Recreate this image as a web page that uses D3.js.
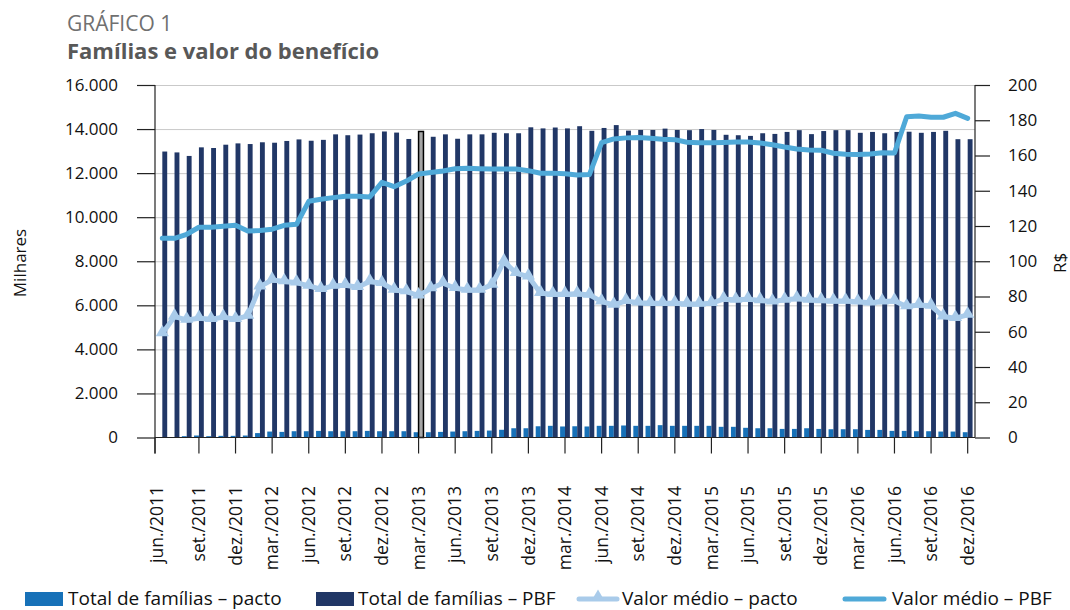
<!DOCTYPE html>
<html><head><meta charset="utf-8">
<script src="https://cdn.jsdelivr.net/npm/d3@7"></script>
<style>
body{margin:0;background:#fff;}
text{font-family:"Open Sans","Noto Sans",sans-serif;}
</style></head>
<body>
<svg id="chart" width="1070" height="610"></svg>
<script>
const categories = [
 "jun./2011","jul./2011","ago./2011","set./2011","out./2011","nov./2011","dez./2011",
 "jan./2012","fev./2012","mar./2012","abr./2012","mai./2012","jun./2012","jul./2012","ago./2012","set./2012","out./2012","nov./2012","dez./2012",
 "jan./2013","fev./2013","mar./2013","abr./2013","mai./2013","jun./2013","jul./2013","ago./2013","set./2013","out./2013","nov./2013","dez./2013",
 "jan./2014","fev./2014","mar./2014","abr./2014","mai./2014","jun./2014","jul./2014","ago./2014","set./2014","out./2014","nov./2014","dez./2014",
 "jan./2015","fev./2015","mar./2015","abr./2015","mai./2015","jun./2015","jul./2015","ago./2015","set./2015","out./2015","nov./2015","dez./2015",
 "jan./2016","fev./2016","mar./2016","abr./2016","mai./2016","jun./2016","jul./2016","ago./2016","set./2016","out./2016","nov./2016","dez./2016"];
const tickLabels = ["jun./2011","set./2011","dez./2011","mar./2012","jun./2012","set./2012","dez./2012","mar./2013","jun./2013","set./2013","dez./2013","mar./2014","jun./2014","set./2014","dez./2014","mar./2015","jun./2015","set./2015","dez./2015","mar./2016","jun./2016","set./2016","dez./2016"];
// Total de famílias – pacto (milhares)
const familiasPacto = [5,10,60,90,60,75,75,90,200,270,255,285,285,300,285,285,285,300,285,285,285,240,240,255,270,285,300,315,350,420,420,510,530,500,510,500,530,530,545,530,530,560,530,530,530,530,485,485,440,420,420,390,390,420,390,375,375,375,345,345,300,300,285,285,270,270,240];
// Total de famílias – PBF (milhares)
const familiasPBF = [12980,12940,12780,13170,13140,13290,13350,13320,13400,13380,13460,13530,13470,13510,13760,13720,13750,13810,13890,13840,13550,13890,13650,13760,13560,13760,13760,13830,13810,13810,14080,14030,14070,14030,14130,13920,14050,14180,13930,13960,13960,14020,13960,13950,14000,13960,13740,13720,13690,13810,13780,13870,13950,13770,13910,13950,13950,13830,13870,13810,13870,13880,13830,13870,13920,13540,13540];
// Valor médio – pacto (R$)
const valorPacto = [59,68.6,66.7,67.7,67.1,68.3,67.1,69,85.6,89.4,88.5,87.9,86,84.1,86,86.4,85.3,88.5,87.5,83.7,82.8,80.5,84.5,87.5,84.7,83.7,83.7,86.6,99.8,93.2,91.3,81.9,81.3,81.3,81.5,80.9,77.1,75.2,77.5,76.5,76.2,76.2,76.2,75.8,75.8,76.2,78.5,78.1,78.5,77.8,77.1,78.1,78.8,78.1,77.8,77.5,77.5,77,76.5,77.1,77.5,74.3,75.2,74.7,68.6,67.7,69.6];
// Valor médio – PBF (R$)
const valorPBF = [113,113,115.3,119.3,119.3,119.9,120.4,117.2,117.4,118.2,120.4,121,134,135.2,136.1,136.9,136.9,136.5,144.8,142.3,145.5,149.5,150.4,151.2,152.5,152.7,152.5,152.3,152.3,152.3,151.4,149.9,150,149.6,149,149.2,167.3,169.4,170,170.2,169.8,169.2,169,167.5,167.2,167.3,167.4,167.6,167.6,167.1,166.1,164.8,163.7,163.1,163,161.3,160.7,160.5,160.9,161.6,161.4,182,182.4,181.7,181.7,183.9,181.1];
const leftTicks = [0,2000,4000,6000,8000,10000,12000,14000,16000];
const rightTicks = [0,20,40,60,80,100,120,140,160,180,200];
const highlighted = ["mar./2013"];
const seriesNames = ["Total de famílias – pacto","Total de famílias – PBF","Valor médio – pacto","Valor médio – PBF"];

const C = {pacto:"#1771b8", pbf:"#213766", linePacto:"#a9cbea", linePBF:"#4fa9d8", grid:"#c9c9c9", axis:"#222"};
const svg = d3.select("#chart");
const L = 155, R = 975, T = 85, B = 437.5;

const x = d3.scaleBand().domain(categories).range([L, R]).paddingInner(0.2).paddingOuter(0.2);
const sub = d3.scaleBand().domain(["pacto","pbf"]).range([0, x.bandwidth()]);
const yL = d3.scaleLinear().domain([0,16000]).range([B, T]);
const yR = d3.scaleLinear().domain([0,200]).range([B, T]);
const fmt = d => d3.format(",")(d).replace(/,/g, ".");

// title
svg.append("text").attr("x",67).attr("y",30.5).attr("font-size",21).attr("fill","#707070").attr("font-weight",400).text("GRÁFICO 1");
svg.append("text").attr("x",67).attr("y",58.5).attr("font-size",22).attr("fill","#585858").attr("font-weight",700).text("Famílias e valor do benefício");

// grid
svg.append("g").selectAll("line").data(leftTicks.slice(1)).join("line")
  .attr("x1",L).attr("x2",R).attr("y1",d=>yL(d)+0.5).attr("y2",d=>yL(d)+0.5)
  .attr("stroke",C.grid).attr("stroke-width",1);

// bars
const gBars = svg.append("g");
gBars.selectAll("rect.p").data(categories).join("rect").attr("class","p")
  .attr("x",d=>x(d)+sub("pacto")).attr("width",sub.bandwidth())
  .attr("y",(d,i)=>yL(familiasPacto[i])).attr("height",(d,i)=>B-yL(familiasPacto[i]))
  .attr("fill",C.pacto);
gBars.selectAll("rect.b").data(categories).join("rect").attr("class","b")
  .attr("x",d=>x(d)+sub("pbf")).attr("width",sub.bandwidth())
  .attr("y",(d,i)=>yL(familiasPBF[i])).attr("height",(d,i)=>B-yL(familiasPBF[i]))
  .attr("fill",d=>highlighted.includes(d)?"#a6a6a6":C.pbf)
  .attr("stroke",d=>highlighted.includes(d)?"#000":"none")
  .attr("stroke-width",1.5);

// axes
const leftAxis = d3.axisLeft(yL).tickValues(leftTicks).tickSize(18).tickPadding(19).tickFormat(fmt);
const gL = svg.append("g").attr("transform",`translate(${L},0)`).call(leftAxis);
const rightAxis = d3.axisRight(yR).tickValues(rightTicks).tickSize(15).tickPadding(18);
const gR = svg.append("g").attr("transform",`translate(${R},0)`).call(rightAxis);
[gL,gR].forEach(g=>{
  g.select(".domain").remove();
  g.selectAll(".tick line").attr("stroke",C.axis).attr("stroke-width",1.2);
  g.selectAll(".tick text").attr("font-size",17).attr("fill","#111").attr("font-family","'Open Sans',sans-serif");
});
svg.append("line").attr("x1",L).attr("x2",L).attr("y1",T).attr("y2",B+16).attr("stroke",C.axis).attr("stroke-width",1.2);
svg.append("line").attr("x1",R).attr("x2",R).attr("y1",T).attr("y2",B).attr("stroke",C.axis).attr("stroke-width",1.2);
svg.append("line").attr("x1",L).attr("x2",R).attr("y1",B).attr("y2",B).attr("stroke",C.axis).attr("stroke-width",1.2);

// x ticks
const tickX = d => d === categories[0] ? L : x(d) + x.bandwidth()/2;
const gX = svg.append("g");
gX.selectAll("line").data(tickLabels).join("line")
  .attr("x1",tickX).attr("x2",tickX).attr("y1",B).attr("y2",B+16)
  .attr("stroke",C.axis).attr("stroke-width",1.2);
gX.selectAll("text").data(tickLabels).join("text")
  .attr("transform",d=>`translate(${d===categories[0]?tickX(d)+2:tickX(d)},486) rotate(-90)`)
  .attr("dy","0.35em").attr("text-anchor","end").attr("font-size",17.5).attr("fill","#111")
  .text(d=>d);

// axis titles
svg.append("text").attr("transform","translate(20,263) rotate(-90)").attr("dy","0.35em").attr("text-anchor","middle").attr("font-size",17).attr("fill","#111").text("Milhares");
svg.append("text").attr("transform","translate(1060,263) rotate(-90)").attr("dy","0.35em").attr("text-anchor","middle").attr("font-size",17).attr("fill","#111").text("R$");

// lines
const cx = d => x(d) + x.bandwidth()/2;
const linePacto = d3.line().x(d=>cx(d)).y((d,i)=>yR(valorPacto[i]));
const linePBF = d3.line().x(d=>cx(d)).y((d,i)=>yR(valorPBF[i]));
svg.append("path").attr("d",linePacto(categories)).attr("fill","none").attr("stroke",C.linePacto).attr("stroke-width",5).attr("stroke-linejoin","round");
const tri = d3.symbol().type(d3.symbolTriangle).size(75);
svg.append("g").selectAll("path").data(categories).join("path")
  .attr("d",tri).attr("transform",(d,i)=>`translate(${cx(d)},${yR(valorPacto[i])-1})`).attr("fill",C.linePacto);
svg.append("path").attr("d",linePBF(categories)).attr("fill","none").attr("stroke",C.linePBF).attr("stroke-width",5).attr("stroke-linejoin","round").attr("stroke-linecap","round");

// legend
const lg = svg.append("g");
const ly = 598;
lg.append("rect").attr("x",25).attr("y",ly-6).attr("width",38).attr("height",14).attr("fill",C.pacto);
lg.append("text").attr("x",68).attr("y",ly).attr("dy","0.35em").attr("font-size",19).attr("fill","#111").text(seriesNames[0]);
lg.append("rect").attr("x",316).attr("y",ly-6).attr("width",38).attr("height",14).attr("fill",C.pbf);
lg.append("text").attr("x",358).attr("y",ly).attr("dy","0.35em").attr("font-size",19).attr("fill","#111").text(seriesNames[1]);
lg.append("line").attr("x1",579).attr("x2",617).attr("y1",ly+1).attr("y2",ly+1).attr("stroke",C.linePacto).attr("stroke-width",5).attr("stroke-linecap","round");
lg.append("path").attr("d",tri).attr("transform",`translate(598,${ly-1})`).attr("fill",C.linePacto);
lg.append("text").attr("x",622).attr("y",ly).attr("dy","0.35em").attr("font-size",19).attr("fill","#111").text(seriesNames[2]);
lg.append("line").attr("x1",845).attr("x2",884).attr("y1",ly+1).attr("y2",ly+1).attr("stroke",C.linePBF).attr("stroke-width",5).attr("stroke-linecap","round");
lg.append("text").attr("x",892).attr("y",ly).attr("dy","0.35em").attr("font-size",19).attr("fill","#111").text(seriesNames[3]);
</script>
</body></html>
